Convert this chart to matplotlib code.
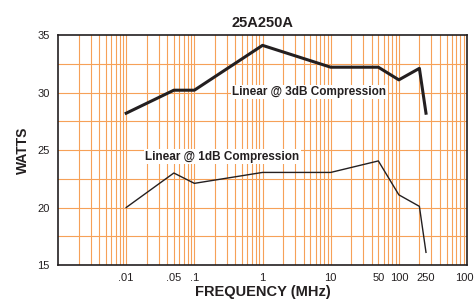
import matplotlib.pyplot as plt
import numpy as np

plt.rcParams['font.family'] = ['Liberation Sans', 'DejaVu Sans']

# data
freq_3db = [0.01, 0.05, 0.1, 1, 10, 50, 100, 200, 250]
watts_3db = [28.2, 30.2, 30.2, 34.1, 32.2, 32.2, 31.1, 32.1, 28.2]

freq_1db = [0.01, 0.05, 0.1, 1, 10, 50, 100, 200, 250]
watts_1db = [20.0, 23.0, 22.1, 23.05, 23.05, 24.05, 21.1, 20.1, 16.1]

xtick_vals = [0.01, 0.05, 0.1, 1, 10, 50, 100, 250, 1000]
xtick_labels = ['.01', '.05', '.1', '1', '10', '50', '100', '250', '1000']
ytick_vals = [15, 20, 25, 30, 35]

grid_color = '#F6A158'
ink = '#231f20'

fig = plt.figure(figsize=(4.74, 3.01), dpi=100)
ax = fig.add_axes([0.1224, 0.1196, 0.8629, 0.7641])

ax.set_xscale('log')
ax.set_xlim(0.001, 1000)
ax.set_ylim(15, 35)

# orange graph-paper grid
for dec in [0.001, 0.01, 0.1, 1, 10, 100]:
    for k in range(2, 11):
        ax.axvline(dec * k, color=grid_color, lw=0.8, zorder=1)
for yv in np.arange(17.5, 35, 2.5):
    ax.axhline(yv, color=grid_color, lw=0.8, zorder=1)

ax.plot(freq_3db, watts_3db, color=ink, lw=2.2, zorder=3)
ax.plot(freq_1db, watts_1db, color=ink, lw=1.0, zorder=3)

ax.text(0.36, 30.05, 'Linear @ 3dB Compression', fontsize=8.5, fontweight='bold',
        color=ink, va='center', ha='left', zorder=4,
        bbox=dict(facecolor='white', edgecolor='none', pad=1.0))
ax.text(0.019, 24.4, 'Linear @ 1dB Compression', fontsize=8.5, fontweight='bold',
        color=ink, va='center', ha='left', zorder=4,
        bbox=dict(facecolor='white', edgecolor='none', pad=1.0))

ax.set_xticks(xtick_vals)
ax.set_xticklabels(xtick_labels)
ax.minorticks_off()
ax.set_yticks(ytick_vals)
ax.tick_params(length=0, labelsize=8, colors=ink, pad=6)

for s in ax.spines.values():
    s.set_color(ink)
    s.set_linewidth(1.2)
    s.set_zorder(5)

ax.set_title('25A250A', fontsize=10.5, fontweight='bold', color=ink, pad=6)
ax.set_xlabel('FREQUENCY (MHz)', fontsize=10.5, fontweight='bold', color=ink, labelpad=1)
ax.set_ylabel('WATTS', fontsize=10, fontweight='bold', color=ink, labelpad=5)

fig.savefig('out.png', dpi=100)
